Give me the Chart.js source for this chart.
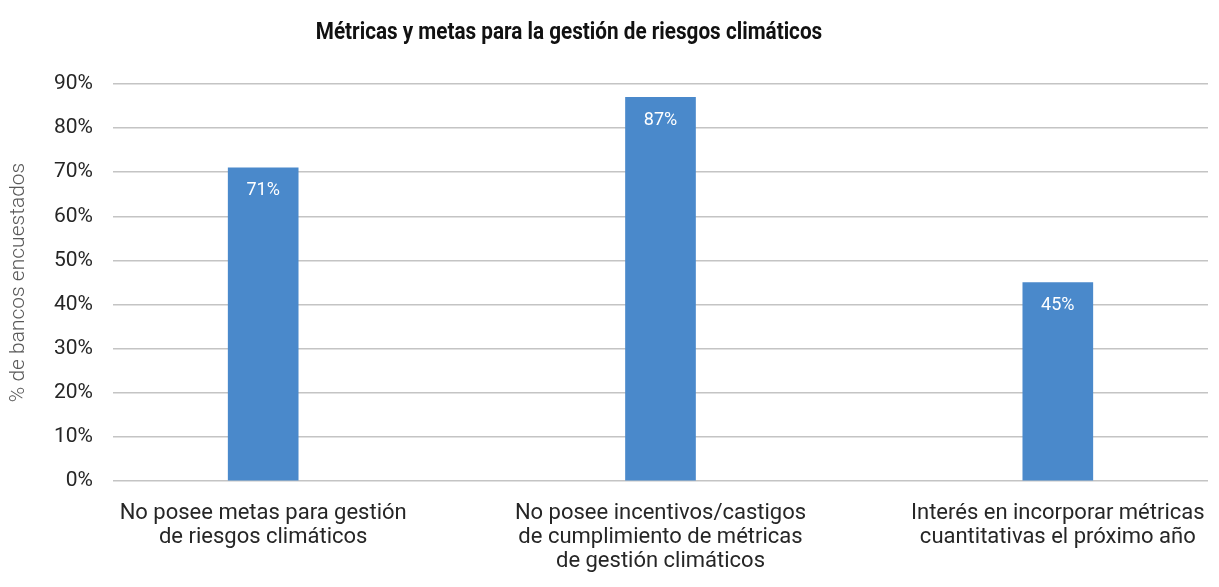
<!DOCTYPE html>
<html lang="es">
<head>
<meta charset="utf-8">
<script src="https://cdn.jsdelivr.net/npm/chart.js@4"></script>
<style>
  html, body { margin: 0; padding: 0; background: #fff; }
  #wrap { width: 1219px; height: 587px; }
</style>
</head>
<body>
<div id="wrap"><canvas id="chart" width="1219" height="587"></canvas></div>
<script>
// 데이터
const chartTitle = 'Métricas y metas para la gestión de riesgos climáticos';
const yAxisTitle = '% de bancos encuestados';
const categories = [
  ['No posee metas para gestión', 'de riesgos climáticos'],
  ['No posee incentivos/castigos', 'de cumplimiento de métricas', 'de gestión climáticos'],
  ['Interés en incorporar métricas', 'cuantitativas el próximo año']
];
const values = [71, 87, 45];
const yTicks = [0, 10, 20, 30, 40, 50, 60, 70, 80, 90];

const BAR_COLOR = '#4A89CB';
const TEXT_COLOR = '#262626';

// 막대 안쪽 라벨
const barLabels = {
  id: 'barLabels',
  afterDatasetsDraw(chart) {
    const ctx = chart.ctx;
    const meta = chart.getDatasetMeta(0);
    ctx.save();
    ctx.fillStyle = '#ffffff';
    ctx.font = '18px Roboto';
    ctx.textAlign = 'center';
    ctx.textBaseline = 'middle';
    meta.data.forEach((bar, i) => {
      ctx.fillText(values[i] + '%', bar.x, bar.y + 23);
    });
    ctx.restore();
  }
};

// 제목 (좁은 글꼴 흉내)
const condensedTitle = {
  id: 'condensedTitle',
  afterDraw(chart) {
    const ctx = chart.ctx;
    ctx.save();
    ctx.font = 'bold 23px Roboto';
    ctx.fillStyle = '#111111';
    ctx.textAlign = 'center';
    ctx.textBaseline = 'middle';
    ctx.translate(569, 33);
    ctx.scale(0.9, 1);
    ctx.fillText(chartTitle, 0, 0);
    ctx.restore();
  }
};

new Chart(document.getElementById('chart'), {
  type: 'bar',
  data: {
    datasets: [{
      data: values.map((v, i) => ({ x: i, y: v })),
      backgroundColor: BAR_COLOR,
      borderWidth: 0,
      barThickness: 70
    }]
  },
  options: {
    responsive: false,
    animation: false,
    layout: { padding: { top: 84, left: 0, right: 11, bottom: 0 } },
    plugins: {
      legend: { display: false },
      tooltip: { enabled: false },
      title: { display: false }
    },
    scales: {
      x: {
        type: 'linear',
        offset: false,
        min: -0.378,
        max: 2.378,
        grid: { display: false },
        border: { display: false },
        afterBuildTicks: function(scale) {
          scale.ticks = categories.map((c, i) => ({ value: i }));
        },
        afterFit: function(scale) {
          scale.height = 106;
        },
        ticks: {
          autoSkip: false,
          maxRotation: 0,
          padding: 12,
          color: TEXT_COLOR,
          font: { family: 'Roboto', size: 22, lineHeight: 1.1 },
          callback: function(value) {
            return categories[value];
          }
        }
      },
      y: {
        min: 0,
        max: 90,
        afterBuildTicks: function(scale) {
          scale.ticks = yTicks.map(v => ({ value: v }));
        },
        afterFit: function(scale) {
          scale.width = 113;
        },
        grid: {
          color: '#C4C4C4',
          lineWidth: 1.5,
          drawTicks: false
        },
        border: { display: false },
        ticks: {
          padding: 20,
          color: TEXT_COLOR,
          font: { family: 'Roboto', size: 21 },
          callback: function(value) {
            return value + '%';
          }
        },
        title: {
          display: true,
          text: yAxisTitle,
          color: '#595959',
          padding: { top: 6, bottom: 0 },
          font: { family: 'Roboto', size: 21, weight: '300' }
        }
      }
    }
  },
  plugins: [barLabels, condensedTitle]
});
</script>
</body>
</html>
